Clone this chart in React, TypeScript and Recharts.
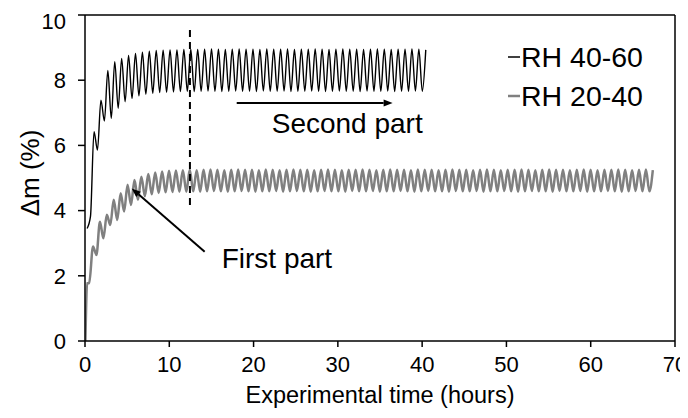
import React from "react";
import {
  LineChart,
  Line,
  XAxis,
  YAxis,
  ReferenceLine,
} from "recharts";

// ─── Data ──────────────────────────────────────────────────────────────────────

const xTicks = [0, 10, 20, 30, 40, 50, 60, 70];
const yTicks = [0, 2, 4, 6, 8, 10];

// RH 40-60: first readings before cycling starts, then alternating peak / trough
const rh4060LeadTime = [0.25, 0.65];
const rh4060LeadValue = [3.45, 3.82];
const rh4060Start = 1.07; // hours, first peak
const rh4060Peaks = [
  6.42, 7.39, 8.3, 8.57, 8.67, 8.76, 8.82, 8.86, 8.89, 8.91,
  8.92, 8.93, 8.93, 8.94, 8.95, 8.94, 8.95, 8.96, 8.95, 8.94,
  8.95, 8.96, 8.95, 8.95, 8.94, 8.96, 8.95, 8.95, 8.96, 8.94,
  8.95, 8.95, 8.96, 8.95, 8.94, 8.95, 8.96, 8.95, 8.95, 8.94,
  8.95, 8.96, 8.95, 8.94, 8.95, 8.95, 8.96, 8.95, 8.93,
];
const rh4060Troughs = [
  5.86, 6.75, 6.83, 7.14, 7.34, 7.44, 7.52, 7.57, 7.6, 7.62,
  7.63, 7.64, 7.65, 7.66, 7.65, 7.66, 7.67, 7.66, 7.65, 7.66,
  7.67, 7.66, 7.66, 7.65, 7.67, 7.66, 7.66, 7.67, 7.65, 7.66,
  7.66, 7.67, 7.66, 7.65, 7.66, 7.67, 7.66, 7.66, 7.65, 7.67,
  7.66, 7.66, 7.67, 7.65, 7.66, 7.66, 7.67, 7.66,
];

// RH 20-40
const rh2040LeadTime = [0.05, 0.25, 0.5];
const rh2040LeadValue = [0, 1.77, 1.78];
const rh2040Start = 0.95;
const rh2040Peaks = [
  2.9, 3.66, 3.87, 4.33, 4.53, 4.79, 4.94, 5.04, 5.12, 5.17,
  5.2, 5.22, 5.23, 5.24, 5.25, 5.24, 5.25, 5.26, 5.25, 5.24,
  5.25, 5.26, 5.25, 5.25, 5.24, 5.26, 5.25, 5.24, 5.25, 5.26,
  5.25, 5.25, 5.24, 5.25, 5.26, 5.25, 5.24, 5.25, 5.25, 5.26,
  5.25, 5.24, 5.25, 5.26, 5.25, 5.25, 5.24, 5.26, 5.25, 5.25,
  5.24, 5.25, 5.26, 5.25, 5.25, 5.24, 5.25, 5.26, 5.25, 5.24,
  5.25, 5.25, 5.26, 5.25, 5.24, 5.25, 5.26, 5.25, 5.25, 5.24,
  5.25, 5.26, 5.25, 5.24, 5.25, 5.25, 5.26, 5.25, 5.24, 5.25,
  5.26, 5.24,
];
const rh2040Troughs = [
  2.64, 3.15, 3.56, 3.71, 3.97, 4.17, 4.33, 4.44, 4.5, 4.54,
  4.56, 4.57, 4.58, 4.58, 4.59, 4.58, 4.59, 4.6, 4.59, 4.58,
  4.59, 4.6, 4.59, 4.58, 4.59, 4.59, 4.6, 4.58, 4.59, 4.6,
  4.59, 4.58, 4.59, 4.6, 4.59, 4.59, 4.58, 4.6, 4.59, 4.59,
  4.6, 4.58, 4.59, 4.59, 4.6, 4.59, 4.58, 4.59, 4.6, 4.59,
  4.59, 4.58, 4.6, 4.59, 4.59, 4.6, 4.58, 4.59, 4.59, 4.6,
  4.59, 4.58, 4.59, 4.6, 4.59, 4.59, 4.58, 4.6, 4.59, 4.59,
  4.6, 4.58, 4.59, 4.59, 4.6, 4.59, 4.58, 4.59, 4.6, 4.59,
  4.59,
];

// humidity step every half cycle (hours)
const halfCycle = 0.41;

// annotation positions in data units
const splitTime = 12.45;
const splitRange = [4.17, 9.54];
const secondArrow = [{ x: 18, y: 7.3 }, { x: 36.5, y: 7.3 }];
const firstArrow = [{ x: 14.2, y: 2.74 }, { x: 5.54, y: 4.68 }];

// ─── Helpers ───────────────────────────────────────────────────────────────────

type Pt = { t: number; v: number };

function buildSeries(
  leadT: number[],
  leadV: number[],
  start: number,
  peaks: number[],
  troughs: number[]
): Pt[] {
  const out: Pt[] = leadT.map((t, i) => ({ t, v: leadV[i] }));
  peaks.forEach((p, i) => {
    out.push({ t: start + 2 * i * halfCycle, v: p });
    if (i < troughs.length) {
      out.push({ t: start + (2 * i + 1) * halfCycle, v: troughs[i] });
    }
  });
  return out;
}

const rh4060 = buildSeries(rh4060LeadTime, rh4060LeadValue, rh4060Start, rh4060Peaks, rh4060Troughs);
const rh2040 = buildSeries(rh2040LeadTime, rh2040LeadValue, rh2040Start, rh2040Peaks, rh2040Troughs);

const FONT = "'Liberation Sans', Arial, sans-serif";

function Arrow(props: any) {
  const { x1, y1, x2, y2, text, dx, dy } = props;
  const ang = Math.atan2(y2 - y1, x2 - x1);
  const len = 9;
  const w = 3.5;
  const bx = x2 - len * Math.cos(ang);
  const by = y2 - len * Math.sin(ang);
  const px = -Math.sin(ang) * w;
  const py = Math.cos(ang) * w;
  return (
    <g>
      <line x1={x1} y1={y1} x2={bx} y2={by} stroke="#000" strokeWidth={2} />
      <polygon
        points={`${x2},${y2} ${bx + px},${by + py} ${bx - px},${by - py}`}
        fill="#000"
      />
      <text x={x1 + dx} y={y1 + dy} fontFamily={FONT} fontSize={28} fill="#000">
        {text}
      </text>
    </g>
  );
}

// rotated y title, centred a little above the plot middle
function YTitle({ viewBox }: any) {
  const cx = viewBox.x + 22;
  const cy = viewBox.y + viewBox.height / 2 - 5;
  return (
    <text
      x={cx}
      y={cy}
      transform={`rotate(-90, ${cx}, ${cy})`}
      textAnchor="middle"
      dominantBaseline="central"
      fontFamily={FONT}
      fontSize={26}
      fill="#000"
    >
      Δm (%)
    </text>
  );
}

// series key, drawn over the upper right of the plot
function LegendBox() {
  return (
    <svg
      width={182}
      height={90}
      style={{ position: "absolute", left: 498, top: 28, display: "block" }}
    >
      <line x1={2} y1={21} x2={14} y2={21} stroke="#000" strokeWidth={1.5} />
      <text x={15} y={31} fontFamily={FONT} fontSize={28.5} fill="#000">RH 40-60</text>
      <line x1={2} y1={60} x2={14} y2={60} stroke="#808080" strokeWidth={2.5} />
      <text x={15} y={70} fontFamily={FONT} fontSize={28.5} fill="#000">RH 20-40</text>
    </svg>
  );
}

// ─── Main component ────────────────────────────────────────────────────────────

export default function App() {
  const tick = { fontSize: 22, fill: "#000", fontFamily: FONT };
  return (
    <div style={{ position: "relative", width: 680, height: 410, background: "#fff" }}>
      <LineChart width={680} height={410} margin={{ top: 7, right: 13, left: 0, bottom: 0 }}>
        <XAxis
          type="number"
          dataKey="t"
          domain={[0, 70]}
          ticks={xTicks}
          tick={tick}
          tickSize={6}
          tickMargin={9}
          height={77}
          stroke="#000"
          strokeWidth={1.5}
          allowDataOverflow
          label={{
            value: "Experimental time (hours)",
            position: "insideBottom",
            offset: 15,
            style: { fontSize: 23.5, fill: "#000", fontFamily: FONT },
          }}
        />
        <YAxis
          type="number"
          domain={[0, 10]}
          ticks={yTicks}
          tick={tick}
          tickSize={7}
          tickMargin={12}
          width={77}
          stroke="#000"
          strokeWidth={1.5}
          label={<YTitle />}
        />
        <ReferenceLine y={10} stroke="#000" strokeWidth={1.5} />
        <ReferenceLine x={70} stroke="#000" strokeWidth={1.5} />
        <Line
          data={rh2040}
          dataKey="v"
          type="monotone"
          stroke="#808080"
          strokeWidth={2.5}
          dot={false}
          isAnimationActive={false}
          name="RH 20-40"
        />
        <Line
          data={rh4060}
          dataKey="v"
          type="monotone"
          stroke="#000"
          strokeWidth={1.4}
          dot={false}
          isAnimationActive={false}
          name="RH 40-60"
        />
        <ReferenceLine
          segment={[
            { x: splitTime, y: splitRange[0] },
            { x: splitTime, y: splitRange[1] },
          ]}
          stroke="#000"
          strokeWidth={2}
          strokeDasharray="7 5"
        />
        <ReferenceLine
          segment={secondArrow}
          shape={(p: any) => <Arrow {...p} text="Second part" dx={35} dy={30} />}
        />
        <ReferenceLine
          segment={firstArrow}
          shape={(p: any) => <Arrow {...p} text="First part" dx={17} dy={16} />}
        />
      </LineChart>
      <LegendBox />
    </div>
  );
}
